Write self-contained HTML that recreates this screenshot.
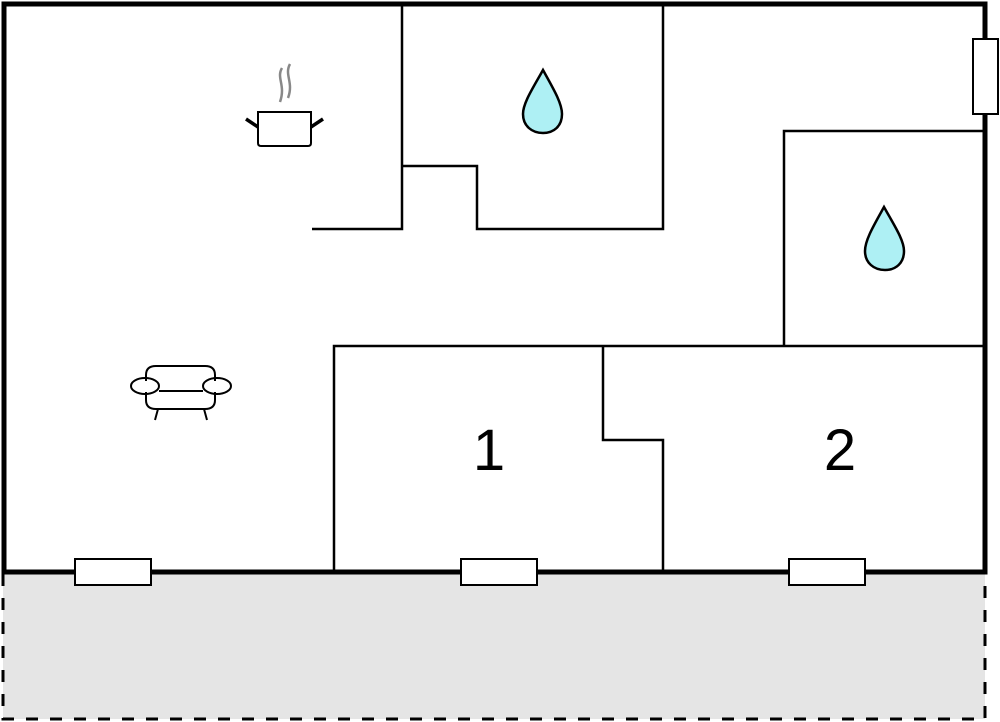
<!DOCTYPE html>
<html><head><style>html,body{margin:0;padding:0;background:#fff}svg{display:block}</style></head>
<body>
<svg width="1000" height="722" viewBox="0 0 1000 722" xmlns="http://www.w3.org/2000/svg">
<rect x="3" y="572" width="982" height="147" fill="#e5e5e5"/>
<path d="M3 574 V719 H985 V574" fill="none" stroke="#000" stroke-width="3" stroke-dasharray="12,12"/>
<path d="M4 572 V4 H985 V572 Z" fill="#fff" stroke="#000" stroke-width="5"/>
<g fill="none" stroke="#000" stroke-width="2.5">
<path d="M312 229 H402 V4"/>
<path d="M402 166 H477 V229 H663 V4"/>
<path d="M784 346 V131 H985"/>
<path d="M334 572 V346 H985"/>
<path d="M603 346 V440 H663 V572"/>
</g>
<g fill="#fff" stroke="#000" stroke-width="2">
<rect x="973" y="39" width="25" height="75"/>
<rect x="75" y="559" width="76" height="26"/>
<rect x="461" y="559" width="76" height="26"/>
<rect x="789" y="559" width="76" height="26"/>
</g>
<g fill="#aef0f4" stroke="#000" stroke-width="2.5">
<path d="M543 70 C533 88 523 103 523 114 C523 126 532 133 543 133 C554 133 562 126 562 114 C562 103 553 88 543 70 Z"/>
<path d="M884 207 C874 225 865 240 865 251 C865 263 874 270 885 270 C896 270 904 263 904 251 C904 240 894 225 884 207 Z"/>
</g>
<g fill="none" stroke="#888" stroke-width="2.5">
<path d="M282 68 C276 78 286 85 280 102"/>
<path d="M290 64 C284 75 294 82 288 98"/>
</g>
<g fill="none" stroke="#000" stroke-width="2">
<path d="M258 112 H311 V143 Q311 146 308 146 H261 Q258 146 258 143 Z"/>
</g>
<path d="M246 119 L258 127 M323 119 L311 127" stroke="#000" stroke-width="3.5"/>
<g fill="none" stroke="#000" stroke-width="2">
<path d="M146 381 V375 Q146 366 156 366 H205 Q215 366 215 375 V381"/>
<path d="M146 392 V400 Q146 409 156 409 H205 Q215 409 215 400 V392"/>
<ellipse cx="145" cy="386" rx="14" ry="8"/>
<ellipse cx="217" cy="386" rx="14" ry="8"/>
<path d="M159 391 H203"/>
<path d="M158 409 L155 420 M204 409 L207 420"/>
</g>
<text x="489" y="470" font-family="Liberation Sans, sans-serif" font-size="58" text-anchor="middle">1</text>
<text x="840" y="470" font-family="Liberation Sans, sans-serif" font-size="58" text-anchor="middle">2</text>
</svg>
</body></html>
